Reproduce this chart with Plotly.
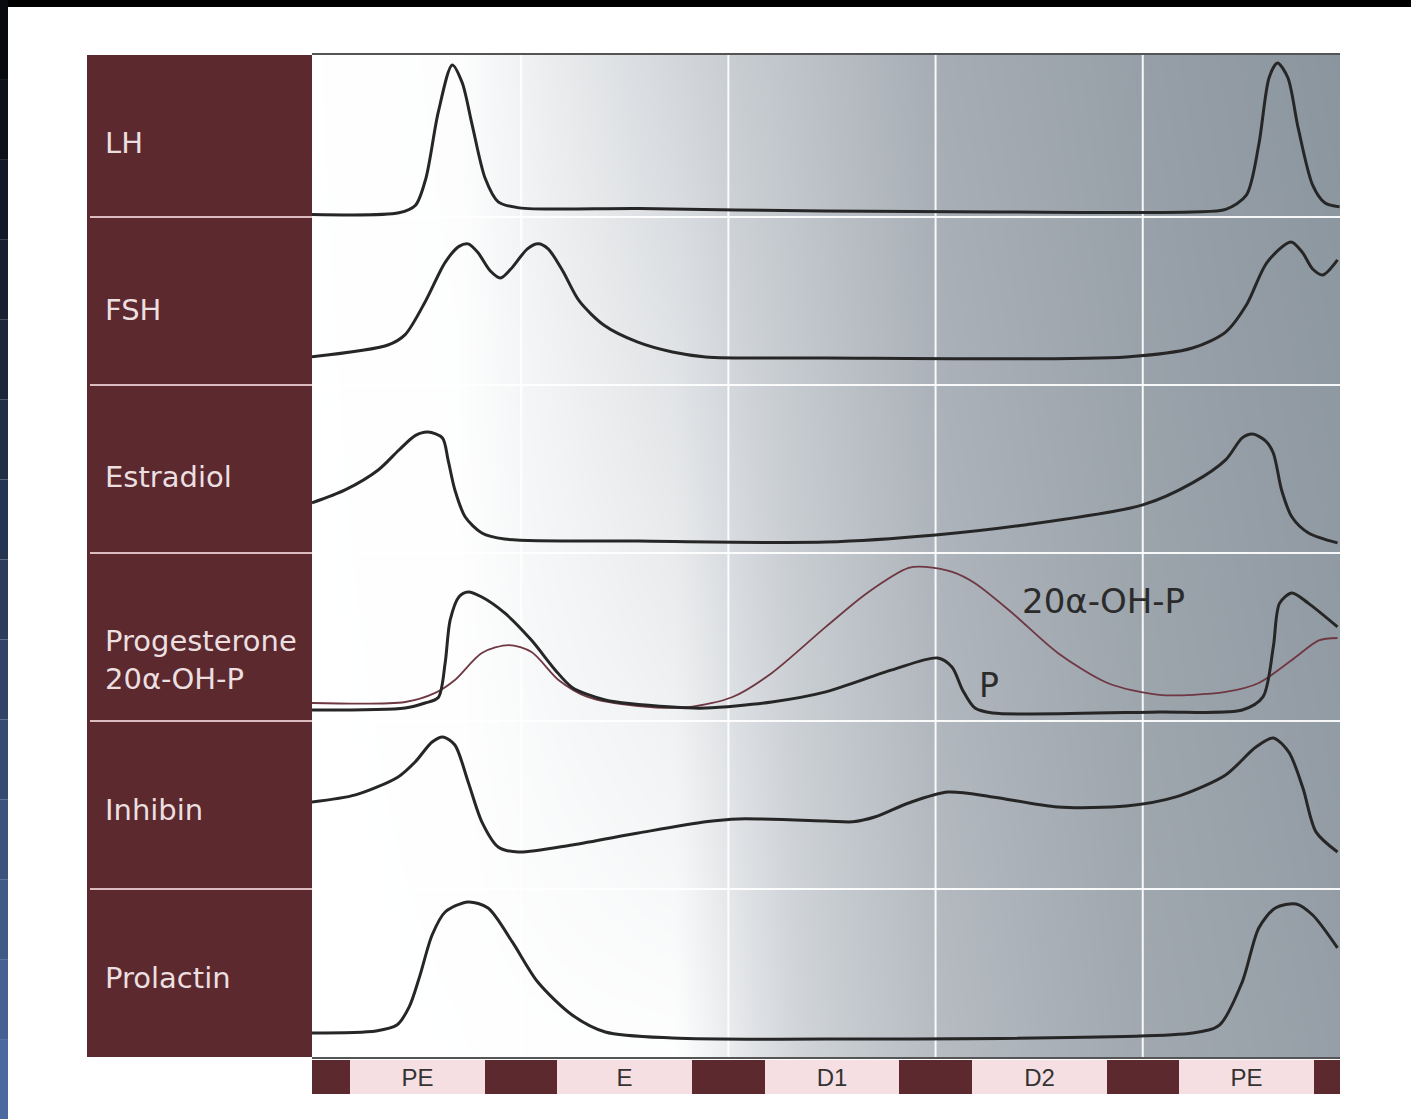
import plotly.graph_objects as go

# ---------------- data (x in cycle days, values = fraction of panel height) -------------
phase_labels = ["PE", "E", "D1", "D2", "PE"]
panel_labels = ["LH", "FSH", "Estradiol", "Progesterone<br>20α-OH-P", "Inhibin", "Prolactin"]

lh_x = [-0.01, 0.41, 0.49, 0.54, 0.60, 0.667, 0.715, 0.763, 0.826, 0.889, 0.99, 1.57, 2.47, 3.30, 4.24, 4.40, 4.50, 4.56, 4.61, 4.65, 4.70, 4.75, 4.82, 4.88, 4.95]
lh_v = [0.015, 0.025, 0.07, 0.23, 0.625, 0.905, 0.80, 0.55, 0.23, 0.09, 0.054, 0.05, 0.035, 0.03, 0.03, 0.045, 0.13, 0.43, 0.83, 0.917, 0.83, 0.53, 0.19, 0.083, 0.06]

fsh_x = [-0.01, 0.357, 0.44, 0.536, 0.633, 0.70, 0.744, 0.79, 0.85, 0.90, 0.95, 1.03, 1.082, 1.13, 1.20, 1.28, 1.40, 1.56, 1.73, 1.89, 2.47, 3.92, 4.24, 4.40, 4.50, 4.60, 4.715, 4.77, 4.82, 4.87, 4.94]
fsh_v = [0.168, 0.238, 0.30, 0.494, 0.73, 0.825, 0.84, 0.79, 0.68, 0.637, 0.69, 0.81, 0.84, 0.81, 0.68, 0.50, 0.355, 0.256, 0.196, 0.167, 0.16, 0.167, 0.22, 0.315, 0.476, 0.73, 0.851, 0.79, 0.69, 0.655, 0.744]

e2_x = [-0.01, 0.15, 0.31, 0.41, 0.49, 0.55, 0.62, 0.647, 0.68, 0.73, 0.81, 0.92, 1.565, 2.47, 3.0, 3.43, 4.0, 4.24, 4.40, 4.48, 4.53, 4.59, 4.63, 4.67, 4.72, 4.80, 4.94]
e2_v = [0.298, 0.375, 0.494, 0.613, 0.70, 0.72, 0.685, 0.554, 0.375, 0.214, 0.119, 0.083, 0.071, 0.065, 0.107, 0.167, 0.286, 0.417, 0.554, 0.685, 0.708, 0.67, 0.595, 0.375, 0.214, 0.119, 0.06]

p_x = [-0.01, 0.44, 0.536, 0.60, 0.633, 0.657, 0.70, 0.744, 0.81, 0.92, 1.05, 1.164, 1.246, 1.406, 1.729, 1.89, 2.21, 2.47, 2.79, 3.01, 3.08, 3.13, 3.19, 3.275, 4.08, 4.48, 4.58, 4.63, 4.66, 4.72, 4.80, 4.94]
p_v = [0.065, 0.077, 0.107, 0.14, 0.345, 0.60, 0.74, 0.768, 0.738, 0.643, 0.48, 0.304, 0.20, 0.125, 0.083, 0.077, 0.113, 0.173, 0.304, 0.375, 0.32, 0.185, 0.077, 0.048, 0.054, 0.065, 0.143, 0.44, 0.70, 0.762, 0.70, 0.56]

ohp_x = [-0.01, 0.44, 0.585, 0.68, 0.81, 0.94, 1.05, 1.18, 1.32, 1.565, 1.81, 2.02, 2.21, 2.47, 2.67, 2.87, 2.95, 3.08, 3.19, 3.37, 3.59, 3.83, 4.08, 4.40, 4.56, 4.72, 4.85, 4.94]
ohp_v = [0.107, 0.113, 0.167, 0.244, 0.405, 0.452, 0.41, 0.244, 0.143, 0.089, 0.083, 0.143, 0.286, 0.56, 0.762, 0.911, 0.917, 0.887, 0.82, 0.643, 0.405, 0.226, 0.155, 0.173, 0.226, 0.363, 0.48, 0.494]

inh_x = [-0.01, 0.20, 0.406, 0.488, 0.57, 0.623, 0.68, 0.744, 0.81, 0.889, 0.986, 1.246, 1.565, 1.89, 2.05, 2.47, 2.60, 2.71, 2.87, 3.06, 3.275, 3.59, 3.92, 4.16, 4.40, 4.546, 4.63, 4.705, 4.773, 4.836, 4.94]
inh_v = [0.518, 0.56, 0.667, 0.756, 0.875, 0.905, 0.857, 0.637, 0.40, 0.25, 0.22, 0.262, 0.333, 0.40, 0.417, 0.405, 0.40, 0.43, 0.512, 0.577, 0.548, 0.488, 0.494, 0.548, 0.679, 0.845, 0.899, 0.815, 0.601, 0.34, 0.22]

prl_x = [-0.01, 0.30, 0.40, 0.46, 0.51, 0.57, 0.633, 0.744, 0.84, 0.957, 1.08, 1.246, 1.406, 1.729, 2.47, 4.24, 4.37, 4.48, 4.56, 4.64, 4.74, 4.82, 4.94]
prl_v = [0.143, 0.155, 0.19, 0.30, 0.48, 0.726, 0.863, 0.923, 0.887, 0.685, 0.446, 0.25, 0.149, 0.113, 0.107, 0.143, 0.19, 0.446, 0.768, 0.887, 0.911, 0.845, 0.649]

grid_x = [1, 2, 3, 4]
grid_y = [1, 2, 3, 4, 5]
day_marks = [0, 1, 2, 3, 4, 5]
phase_centers = [0.5, 1.5, 2.5, 3.5, 4.5]

# ---------------- style ----------------
W, H = 1411, 1119
ML, MR, MT, MB = 312, 71, 55, 25
XR = [-0.0097, 4.952]
YR = [0, 5.964]
MAROON = "#5b292e"
PINK = "#f6dfe2"
INK = "#262626"
OHP = "#6f3742"
SMOOTH = 0.8


def px_x(px):
    return (px - ML) / (W - ML - MR)


def px_y(py):
    return (H - MB - py) / (H - MT - MB)


def ramp(table, x):
    for (x0, b0), (x1, b1) in zip(table, table[1:]):
        if x <= x1:
            t = min(max((x - x0) / (x1 - x0), 0), 1)
            return b0 + t * (b1 - b0)
    return table[-1][1]


fig = go.Figure()

# background shading: brightness ramps, whiter further right near the bottom
top_ramp = [(-0.2, 255), (0.7, 253), (1.0, 241), (1.4, 227), (2.0, 205), (3.0, 173), (4.0, 159), (5.1, 147)]
bot_ramp = [(-0.2, 255), (1.75, 254), (2.05, 232), (2.3, 215), (2.6, 202), (3.0, 188), (4.0, 168), (5.1, 157)]
hx = [-0.1 + 0.04 * i for i in range(130)]
hy = [-0.3 + 0.3 * j for j in range(23)]
hz = []
for yy in hy:
    t = min(max(yy / 6, 0), 1)
    hz.append([t * ramp(top_ramp, xx) + (1 - t) * ramp(bot_ramp, xx) for xx in hx])
cs = []
for k in range(11):
    B = 140 + k * 11.5
    d = 10 * (255 - B) / 110
    cs.append([k / 10, f"rgb({int(round(B - d))},{int(round(B))},{int(round(min(255, B + d)))})"])
fig.add_trace(go.Heatmap(x=hx, y=hy, z=hz, colorscale=cs, zmin=140, zmax=255,
                         zsmooth="best", showscale=False, hoverinfo="skip"))

# white grid lines (under the curves)
gx, gy = [], []
for g in grid_x:
    gx += [g, g, None]
    gy += [YR[0], YR[1], None]
for g in grid_y:
    gx += [XR[0], XR[1], None]
    gy += [g, g, None]
fig.add_trace(go.Scatter(x=gx, y=gy, mode="lines", line=dict(color="rgba(255,255,255,0.92)", width=2),
                         hoverinfo="skip", showlegend=False))

# hormone curves, each in its own band
series = [(lh_x, lh_v, 5), (fsh_x, fsh_v, 4), (e2_x, e2_v, 3), (p_x, p_v, 2), (inh_x, inh_v, 1), (prl_x, prl_v, 0)]
fig.add_trace(go.Scatter(x=ohp_x, y=[v + 2 for v in ohp_v], mode="lines",
                         line=dict(color=OHP, width=1.8, shape="spline", smoothing=SMOOTH),
                         hoverinfo="skip", showlegend=False))
for xs, vs, base in series:
    fig.add_trace(go.Scatter(x=xs, y=[v + base for v in vs], mode="lines",
                             line=dict(color=INK, width=3, shape="spline", smoothing=SMOOTH),
                             hoverinfo="skip", showlegend=False))

# cycle phase bar
fig.add_trace(go.Bar(x=day_marks, y=[1] * len(day_marks), width=[0.35] * len(day_marks),
                     marker=dict(color=MAROON, line=dict(width=0)), xaxis="x", yaxis="y2",
                     hoverinfo="skip", showlegend=False))
fig.add_trace(go.Bar(x=phase_centers, y=[1] * len(phase_centers), width=[0.65] * len(phase_centers),
                     marker=dict(color=PINK, line=dict(width=0)), xaxis="x", yaxis="y2",
                     text=phase_labels, textposition="inside", insidetextanchor="middle",
                     textangle=0,
                     textfont=dict(family="Liberation Sans Narrow, Arial Narrow, Liberation Sans", size=24, color="#333333"),
                     hoverinfo="skip", showlegend=False))

shapes = []
# left label panel
shapes.append(dict(type="rect", xref="paper", yref="y", x0=px_x(87), x1=0, y0=YR[0], y1=YR[1],
                   fillcolor=MAROON, line=dict(width=0), layer="above"))
for g in grid_y:
    shapes.append(dict(type="line", xref="paper", yref="y", x0=px_x(90), x1=0, y0=g, y1=g,
                       line=dict(color="#dcbcc0", width=2), layer="above"))
# screenshot frame (black top strip, dark blue left strip)
shapes.append(dict(type="rect", xref="paper", yref="paper", x0=px_x(0), x1=px_x(W), y0=px_y(7), y1=px_y(0),
                   fillcolor="#000000", line=dict(width=0), layer="above"))
n = 14
for i in range(n):
    t = i / (n - 1)
    r = int(8 + t * (75 - 8)); g = int(10 + t * (105 - 10)); b = int(16 + t * (158 - 16))
    shapes.append(dict(type="rect", xref="paper", yref="paper", x0=px_x(0), x1=px_x(8),
                       y0=px_y(H * (i + 1) / n), y1=px_y(H * i / n),
                       fillcolor=f"rgb({r},{g},{b})", line=dict(width=0), layer="above"))

annotations = []
label_y = [5.44, 4.446, 3.452, 2.363, 1.47, 0.47]
for lab, yy in zip(panel_labels, label_y):
    annotations.append(dict(xref="paper", yref="y", x=px_x(103), y=yy, text=lab, showarrow=False,
                            xanchor="left", yanchor="middle", align="left",
                            font=dict(family="DejaVu Sans", size=29, color="#ecdfe0")))
annotations.append(dict(xref="x", yref="y", x=3.81, y=2.714, text="20α-OH-P", showarrow=False,
                        font=dict(family="DejaVu Sans", size=34, color="#2b2b2b")))
annotations.append(dict(xref="x", yref="y", x=3.256, y=2.214, text="P", showarrow=False,
                        font=dict(family="DejaVu Sans", size=33, color="#2b2b2b")))

fig.update_layout(
    width=W, height=H,
    margin=dict(l=ML, r=MR, t=MT, b=MB, pad=0),
    paper_bgcolor="white", plot_bgcolor="white",
    showlegend=False, barmode="overlay", bargap=0,
    xaxis=dict(range=XR, showgrid=False, zeroline=False, showticklabels=False, ticks="",
               showline=True, mirror=True, linecolor="#555555", linewidth=2, anchor="y"),
    yaxis=dict(range=YR, domain=[px_y(1057), 1], showgrid=False, zeroline=False,
               showticklabels=False, ticks=""),
    yaxis2=dict(range=[0, 1], domain=[0, px_y(1060)], showgrid=False, zeroline=False,
                showticklabels=False, ticks=""),
    shapes=shapes, annotations=annotations,
)

fig.write_html("out.html", config={"displayModeBar": False},
               post_script="document.body.style.margin='0px';")
